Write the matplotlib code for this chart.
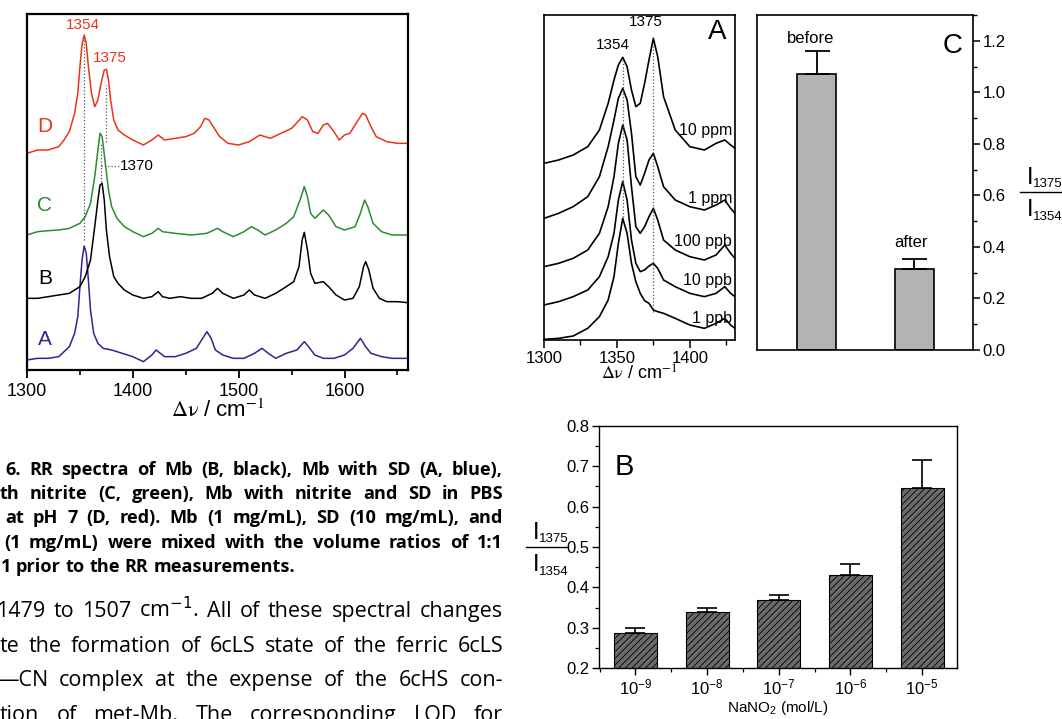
import numpy as np
import matplotlib
matplotlib.use('Agg')
import matplotlib.pyplot as plt
from matplotlib.ticker import MultipleLocator, FixedLocator, FormatStrFormatter

plt.rcParams['font.family'] = ['Liberation Sans', 'DejaVu Sans']
plt.rcParams['mathtext.fontset'] = 'custom'
plt.rcParams['mathtext.rm'] = 'Liberation Sans'
plt.rcParams['mathtext.it'] = 'Liberation Sans:italic'
plt.rcParams['mathtext.bf'] = 'Liberation Sans:bold'
plt.rcParams['hatch.linewidth'] = 0.6

# ---- RR spectra (left figure), offset intensities in a.u. ----
rr_x_A = [1300, 1310, 1320, 1330, 1340, 1345, 1348, 1350, 1352, 1354, 1356, 1358, 1360, 1363, 1367, 1372,
          1380, 1390, 1400, 1410, 1418, 1422, 1426, 1430, 1440, 1450, 1460, 1465, 1470, 1474, 1478, 1485,
          1495, 1505, 1515, 1522, 1528, 1535, 1545, 1555, 1562, 1566, 1572, 1580, 1590, 1600, 1608, 1615,
          1620, 1625, 1635, 1645, 1660]
rr_y_A = [30, 35, 35, 40, 70, 110, 160, 250, 330, 372, 350, 270, 180, 110, 80, 65,
          60, 50, 40, 25, 45, 60, 50, 40, 40, 50, 65, 90, 115, 95, 60, 45,
          35, 35, 50, 65, 50, 35, 50, 60, 85, 70, 45, 35, 35, 45, 65, 95,
          70, 50, 40, 35, 35]

rr_x_B = [1300, 1310, 1320, 1330, 1340, 1350, 1355, 1360, 1364, 1367, 1369, 1371, 1373, 1375, 1378, 1382,
          1386, 1392, 1400, 1410, 1418, 1424, 1428, 1435, 1445, 1455, 1465, 1475, 1480, 1485, 1495, 1505,
          1510, 1515, 1525, 1535, 1545, 1552, 1557, 1560, 1562, 1565, 1568, 1572, 1580, 1585, 1592, 1600,
          1608, 1614, 1618, 1620, 1623, 1627, 1633, 1640, 1650, 1660]
rr_y_B = [215, 215, 220, 225, 230, 250, 280, 330, 430, 510, 555, 560, 510, 420, 340, 280,
          260, 240, 225, 215, 220, 235, 220, 215, 220, 215, 215, 230, 245, 230, 215, 225,
          240, 225, 215, 230, 250, 265, 310, 390, 413, 360, 290, 260, 265, 250, 225, 210,
          215, 250, 310, 325, 300, 245, 215, 205, 205, 202]

rr_x_C = [1300, 1310, 1320, 1330, 1340, 1350, 1355, 1360, 1364, 1367, 1369, 1371, 1374, 1377, 1380, 1385,
          1392, 1400, 1410, 1418, 1424, 1428, 1440, 1455, 1470, 1480, 1485, 1495, 1505, 1512, 1518, 1525,
          1535, 1545, 1552, 1558, 1562, 1565, 1568, 1572, 1580, 1585, 1592, 1600, 1610, 1615, 1619, 1622,
          1627, 1635, 1645, 1660]
rr_y_C = [405, 415, 418, 420, 425, 440, 460, 500, 580, 660, 710, 700, 620, 540, 490, 455,
          430, 415, 400, 410, 425, 415, 410, 405, 410, 425, 415, 400, 415, 430, 420, 405,
          420, 440, 460, 510, 550, 520, 470, 455, 480, 465, 430, 420, 430, 470, 510, 490,
          440, 415, 405, 405]

rr_x_D = [1300, 1310, 1320, 1330, 1335, 1340, 1345, 1348, 1350, 1352, 1354, 1356, 1358, 1361, 1364, 1367,
          1370, 1373, 1375, 1377, 1379, 1382, 1386, 1392, 1400, 1410, 1418, 1424, 1430, 1440, 1450, 1458,
          1464, 1468, 1472, 1476, 1482, 1490, 1500, 1510, 1520, 1530, 1540, 1550, 1556, 1560, 1565, 1570,
          1575, 1580, 1584, 1590, 1595, 1600, 1605, 1610, 1617, 1620, 1625, 1630, 1640, 1650, 1660]
rr_y_D = [650, 660, 660, 670, 690, 715, 770, 830, 910, 975, 1005, 980, 910, 830, 790, 810,
          860, 900, 902, 870, 810, 750, 720, 705, 690, 675, 690, 705, 690, 695, 700, 710,
          730, 755, 750, 730, 700, 680, 675, 685, 705, 695, 710, 725, 745, 760, 750, 715,
          710, 735, 740, 715, 690, 705, 710, 735, 770, 765, 730, 700, 685, 680, 680]

# ---- Panel A: spectra at different nitrite levels ----
a_x = [1300, 1310, 1320, 1330, 1338, 1344, 1348, 1351, 1354, 1357, 1360, 1363, 1366, 1369, 1372, 1375,
       1378, 1382, 1390, 1400, 1410, 1418, 1424, 1428, 1431]
a_1ppb = [12, 15, 22, 45, 80, 130, 200, 300, 375, 330, 240, 185, 150, 128, 120, 100,
          95, 90, 75, 55, 45, 60, 75, 55, 45]
a_10ppb = [115, 125, 140, 160, 200, 260, 330, 430, 485, 430, 310, 240, 215, 220, 232, 240,
           225, 190, 170, 150, 140, 150, 170, 150, 140]
a_100ppb = [230, 240, 255, 280, 330, 410, 500, 600, 655, 610, 470, 350, 330, 350, 380, 405,
            370, 310, 280, 260, 250, 265, 295, 270, 255]
a_1ppm = [375, 390, 410, 440, 500, 590, 670, 735, 765, 730, 630, 500, 475, 510, 550, 570,
          530, 470, 430, 410, 400, 415, 430, 405, 390]
a_10ppm = [540, 550, 565, 590, 640, 720, 790, 835, 858, 830, 760, 710, 720, 780, 850, 915,
           860, 740, 640, 590, 580, 600, 610, 595, 585]
a_labels = ['1 ppb', '10 ppb', '100 ppb', '1 ppm', '10 ppm']
a_label_y = [75, 190, 305, 435, 640]

# ---- Panel C: ratio before / after ----
c_names = ['before', 'after']
c_vals = [1.071, 0.316]
c_err = [0.090, 0.039]

# ---- Panel B: ratio vs NaNO2 concentration ----
b_ticks = ['$10^{-9}$', '$10^{-8}$', '$10^{-7}$', '$10^{-6}$', '$10^{-5}$']
b_vals = [0.286, 0.340, 0.368, 0.430, 0.647]
b_err = [0.014, 0.008, 0.012, 0.027, 0.068]

# ---- page text ----
caption_lines = [
    (5, '6.  RR spectra of Mb (B, black), Mb with SD (A, blue),'),
    (0, 'th nitrite (C, green), Mb with nitrite and SD in PBS'),
    (5, 'at pH 7 (D, red). Mb (1 mg/mL), SD (10 mg/mL), and'),
    (4, '(1 mg/mL) were mixed with the volume ratios of 1:1'),
    (1, '1 prior to the RR measurements.'),
]
body_lines = [
    (-4, '1479 to 1507 cm$^{-1}$. All of these spectral changes'),
    (0, 'te the formation of 6cLS state of the ferric 6cLS'),
    (-3, '\u2014CN complex at the expense of the 6cHS con-'),
    (0, 'tion of met-Mb. The corresponding LOD for'),
]

W, H = 1062, 719
fig = plt.figure(figsize=(W / 100, H / 100), dpi=100)


def px_axes(l, t, r, b):
    return fig.add_axes([l / W, 1 - b / H, (r - l) / W, (b - t) / H])


def ratio_label(x_i, y_line):
    # I_1375 over I_1354, placed in figure pixels (x of the "I", y of the fraction bar)
    def fx(v):
        return v / W

    def fy(v):
        return 1 - v / H
    fig.text(fx(x_i), fy(y_line - 8), 'I', fontsize=17, va='baseline', ha='left')
    fig.text(fx(x_i + 6), fy(y_line - 5), '1375', fontsize=9.5, va='baseline', ha='left')
    fig.text(fx(x_i), fy(y_line + 24), 'I', fontsize=17, va='baseline', ha='left')
    fig.text(fx(x_i + 6), fy(y_line + 28), '1354', fontsize=9.5, va='baseline', ha='left')
    fig.add_artist(plt.Line2D([fx(x_i - 7), fx(x_i + 34)], [fy(y_line), fy(y_line)],
                              color='black', lw=1.0))


red = '#e8351a'
green = '#2e8b2e'
blue = '#34228f'
dotc = '#555555'

# ---------------- left figure ----------------
ax1 = px_axes(27, 14, 408, 370)
ax1.plot(rr_x_A, rr_y_A, color=blue, lw=1.1)
ax1.plot(rr_x_B, rr_y_B, color='black', lw=1.1)
ax1.plot(rr_x_C, rr_y_C, color=green, lw=1.1)
ax1.plot(rr_x_D, rr_y_D, color=red, lw=1.1)
ax1.plot([1354, 1354], [390, 1000], ls=':', color=dotc, lw=0.9)
ax1.plot([1375, 1375], [685, 855], ls=':', color=dotc, lw=0.9)
ax1.plot([1370, 1370], [565, 680], ls=':', color=dotc, lw=0.9)
ax1.plot([1370, 1387], [613, 613], ls=':', color=dotc, lw=0.9)
ax1.text(1388, 613, '1370', fontsize=11, va='center', ha='left')
ax1.text(1353, 1035, '1354', fontsize=11, color=red, ha='center', va='center')
ax1.text(1378, 935, '1375', fontsize=11, color=red, ha='center', va='center')
for lab, yy, c in [('D', 732, red), ('C', 493, green), ('B', 275, 'black'), ('A', 92, blue)]:
    ax1.text(1317, yy, lab, fontsize=15, color=c, ha='center', va='center')
ax1.set_xlim(1300, 1660)
ax1.set_ylim(0, 1068)
ax1.set_yticks([])
ax1.xaxis.set_major_locator(MultipleLocator(100))
ax1.xaxis.set_minor_locator(MultipleLocator(50))
ax1.tick_params(axis='x', which='major', direction='out', length=6, width=1.3, labelsize=13, pad=3)
ax1.tick_params(axis='x', which='minor', direction='out', length=3.5, width=1.2)
for s in ax1.spines.values():
    s.set_linewidth(1.6)
ax1.set_xlabel(r'$\Delta\mathrm{\nu}$ / cm$^{-1}$', fontsize=16, labelpad=0, math_fontfamily='stix')

# ---------------- panel A ----------------
axA = px_axes(544, 15, 735, 340)
for yv in [a_1ppb, a_10ppb, a_100ppb, a_1ppm, a_10ppm]:
    axA.plot(a_x, yv, color='black', lw=1.2)
axA.plot([1354, 1354], [380, 850], ls=':', color=dotc, lw=0.9)
axA.plot([1375, 1375], [95, 905], ls=':', color=dotc, lw=0.9)
for lab, yy in zip(a_labels, a_label_y):
    axA.text(1429, yy, lab, fontsize=11.5, ha='right', va='center')
axA.text(1347, 895, '1354', fontsize=11, ha='center', va='center')
axA.text(1370, 965, '1375', fontsize=11, ha='center', va='center')
axA.text(1419, 935, 'A', fontsize=20, ha='center', va='center')
axA.set_xlim(1300, 1431)
axA.set_ylim(10, 985)
axA.set_yticks([])
axA.xaxis.set_major_locator(MultipleLocator(50))
axA.xaxis.set_minor_locator(MultipleLocator(25))
axA.tick_params(axis='x', which='major', direction='out', length=6, width=1.1, labelsize=12, pad=2)
axA.tick_params(axis='x', which='minor', direction='out', length=3.5, width=1.0)
for s in axA.spines.values():
    s.set_linewidth(1.2)
axA.set_xlabel(r'$\Delta\mathrm{\nu}$ / cm$^{-1}$', fontsize=13, labelpad=-1, math_fontfamily='stix')

# ---------------- panel C ----------------
axC = px_axes(757, 15, 973, 350)
xc = [1, 2]
axC.bar(xc, c_vals, width=0.4, color='#b3b3b3', edgecolor='black', lw=1.2, zorder=2)
axC.errorbar(xc, c_vals, yerr=[[0, 0], c_err], fmt='none', ecolor='black',
             elinewidth=1.3, capsize=9, capthick=1.3, zorder=3)
axC.text(0.94, 1.21, c_names[0], fontsize=12, ha='center', va='center')
axC.text(1.97, 0.418, c_names[1], fontsize=12, ha='center', va='center')
axC.text(2.39, 1.18, 'C', fontsize=20, ha='center', va='center')
axC.set_xlim(0.39, 2.6)
axC.set_ylim(0, 1.3)
axC.set_xticks([])
axC.yaxis.tick_right()
axC.yaxis.set_major_locator(MultipleLocator(0.2))
axC.yaxis.set_minor_locator(MultipleLocator(0.1))
axC.yaxis.set_major_formatter(FormatStrFormatter('%.1f'))
axC.tick_params(axis='y', which='major', direction='out', length=5, width=1.1, labelsize=12, pad=2)
axC.tick_params(axis='y', which='minor', direction='out', length=3, width=1.0)
for s in axC.spines.values():
    s.set_linewidth(1.2)
ratio_label(1027, 192)

# ---------------- panel B ----------------
axB = px_axes(599, 426, 957, 668)
xb = np.arange(len(b_vals))
axB.bar(xb, b_vals, width=0.6, color='#6a6a6a', edgecolor='black', hatch='/////', lw=0.8, zorder=2)
axB.errorbar(xb, b_vals, yerr=[np.zeros(len(b_err)), b_err], fmt='none', ecolor='black',
             elinewidth=1.2, capsize=7, capthick=1.2, zorder=3)
axB.text(0.045, 0.83, 'B', fontsize=21, transform=axB.transAxes, ha='left', va='center')
axB.set_xlim(-0.507, 4.488)
axB.set_ylim(0.2, 0.8)
axB.set_xticks(xb)
axB.set_xticklabels(b_ticks)
axB.xaxis.set_minor_locator(FixedLocator([-0.5, 0.5, 1.5, 2.5, 3.5, 4.5]))
axB.yaxis.set_major_locator(MultipleLocator(0.1))
axB.yaxis.set_minor_locator(MultipleLocator(0.05))
axB.yaxis.set_major_formatter(FormatStrFormatter('%.1f'))
axB.tick_params(axis='both', which='major', direction='out', length=5, width=1.0, labelsize=12, pad=2)
axB.tick_params(axis='both', which='minor', direction='out', length=3, width=0.9)
for s in axB.spines.values():
    s.set_linewidth(1.0)
axB.set_xlabel('NaNO$_2$ (mol/L)', fontsize=11, labelpad=1)
ratio_label(533, 547)

# ---------------- page text (justified) ----------------
renderer = fig.canvas.get_renderer()
txt_family = ['Open Sans', 'DejaVu Sans']


def line_width(text, size, weight):
    t = fig.text(0, 0, text, fontsize=size, fontweight=weight, family=txt_family,
                 math_fontfamily='dejavusans')
    w = t.get_window_extent(renderer).width
    t.remove()
    return w


def put_line(x0, text, x1, base, size, weight, justify=True):
    words = [w for w in text.split(' ') if w != '']
    items = []
    for w in words:
        t = fig.text(0, 1 - base / H, w, fontsize=size, fontweight=weight,
                     family=txt_family, va='baseline', ha='left',
                     math_fontfamily='dejavusans')
        items.append(t)
    widths = [t.get_window_extent(renderer).width for t in items]
    space = 0.26 * size * 100 / 72
    if justify and len(items) > 1:
        gap = (x1 - x0 - sum(widths)) / (len(items) - 1)
        gap = max(gap, 0.5 * space)
    else:
        gap = space
    x = x0
    for t, w in zip(items, widths):
        t.set_x(x / W)
        x += w + gap


# caption size: the last (unjustified) line ends near x = 295
cap_size = 11.0 * (294 - 1) / line_width(caption_lines[4][1], 11.0, 'bold')
cap_base = [475, 499, 523, 548, 572]
for i, (x0, line) in enumerate(caption_lines):
    put_line(x0, line, 503, cap_base[i], cap_size, 'bold', justify=(i < 4))

# body size: lines are justified to ~505 px with slightly wide spaces
nat = np.mean([line_width(l, 12.0, 'normal') for _, l in body_lines[:3]])
body_size = 12.0 * 472 / nat
body_base = [617, 652, 686, 721]
for (x0, line), yb in zip(body_lines, body_base):
    put_line(x0, line, 503, yb, body_size, 'normal')

fig.savefig('out.png', dpi=100)
